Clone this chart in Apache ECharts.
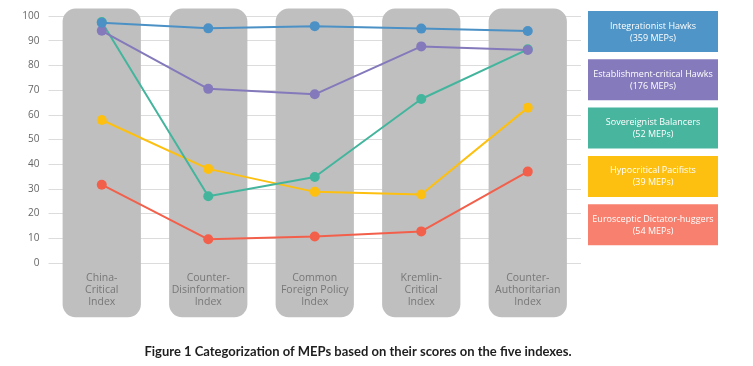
<!DOCTYPE html>
<html><head><meta charset="utf-8">
<script src="https://cdn.jsdelivr.net/npm/echarts@6/dist/echarts.min.js"></script>
<style>html,body{margin:0;padding:0;background:#fff}#c{width:753px;height:366px}</style>
</head><body><div id="c"></div>
<script>
const categories = ["China-\nCritical\nIndex", "Counter-\nDisinformation\nIndex", "Common\nForeign Policy\nIndex", "Kremlin-\nCritical\nIndex", "Counter-\nAuthoritarian\nIndex"];
const seriesNames = ["Integrationist Hawks", "Establishment-critical Hawks", "Sovereignist Balancers", "Hypocritical Pacifists", "Eurosceptic Dictator-huggers"];
const seriesCounts = ["(359 MEPs)", "(176 MEPs)", "(52 MEPs)", "(39 MEPs)", "(54 MEPs)"];
const integrationistHawks = [97.3, 95.0, 95.9, 94.9, 93.9];
const establishmentCritical = [94.0, 70.5, 68.3, 87.7, 86.2];
const sovereignistBalancers = [97.6, 27.0, 34.8, 66.4, 86.5];
const hypocriticalPacifists = [57.9, 38.1, 28.8, 27.7, 62.9];
const euroscepticDictator = [31.7, 9.6, 10.7, 12.8, 37.0];
const yTicks = [0, 10, 20, 30, 40, 50, 60, 70, 80, 90, 100];
const columnRange = [-22, 103]; // extent of the grey background pills in value units

const lineColors = ["#4b91c5", "#8479bb", "#44b59d", "#fdc010", "#f2604b"];
const boxColors = ["#4f95c7", "#857abb", "#48b59f", "#fdc010", "#f7806f"];
const values = [integrationistHawks, establishmentCritical, sovereignistBalancers, hypocriticalPacifists, euroscepticDictator];

const chart = echarts.init(document.getElementById('c'), null, {renderer: 'canvas'});

const lineSeries = seriesNames.map((n, i) => ({
  name: n, type: 'line', data: values[i], z: 5 + (4 - i),
  symbol: 'circle', symbolSize: 10,
  lineStyle: {width: 2, color: lineColors[i]},
  itemStyle: {color: lineColors[i]},
  emphasis: {disabled: true}
}));

const legendGraphics = seriesNames.map((n, i) => ({
  type: 'group', left: 588, top: 11 + i * 48.3,
  children: [
    {type: 'rect', shape: {x: 0, y: 0, width: 130, height: 41}, style: {fill: boxColors[i]}},
    {type: 'text', x: 65, y: 21, style: {text: n + '\n' + seriesCounts[i], fill: '#fff', fontFamily: 'Open Sans', fontSize: 9, align: 'center', verticalAlign: 'middle', lineHeight: 12}}
  ]
}));

chart.setOption({
  animation: false,
  title: {
    text: 'Figure 1 Categorization of MEPs based on their scores on the five indexes.',
    left: 353, top: 340, textAlign: 'center',
    textStyle: {fontFamily: 'Lato', fontWeight: 'bold', fontSize: 13, color: '#1e1e1e'}
  },
  grid: {left: 48.5, right: 172, top: 16, bottom: 103},
  xAxis: {
    type: 'category', data: categories, boundaryGap: true,
    axisLine: {show: false}, axisTick: {show: false},
    axisLabel: {color: '#777', fontSize: 10.5, lineHeight: 12, margin: 9, fontFamily: 'Open Sans', interval: 0},
    z: 10
  },
  yAxis: {
    type: 'value', min: yTicks[0], max: yTicks[yTicks.length - 1], interval: 10,
    axisLine: {show: false}, axisTick: {show: false},
    axisLabel: {color: '#666', fontSize: 10, margin: 9, fontFamily: 'Open Sans'},
    splitLine: {lineStyle: {color: '#dcdcdc', width: 1}}
  },
  graphic: legendGraphics,
  series: [
    {
      type: 'custom', z: 1, silent: true, clip: false,
      data: categories.map((c, i) => [i, columnRange[0], columnRange[1]]),
      renderItem: function (params, api) {
        const top = api.coord([api.value(0), api.value(2)]);
        const bot = api.coord([api.value(0), api.value(1)]);
        const w = api.size([1, 0])[0] * 0.735;
        return {
          type: 'rect',
          shape: {x: top[0] - w / 2, y: top[1], width: w, height: bot[1] - top[1], r: 13},
          style: {fill: '#bfbfbf'}
        };
      }
    }
  ].concat(lineSeries)
});
</script></body></html>
